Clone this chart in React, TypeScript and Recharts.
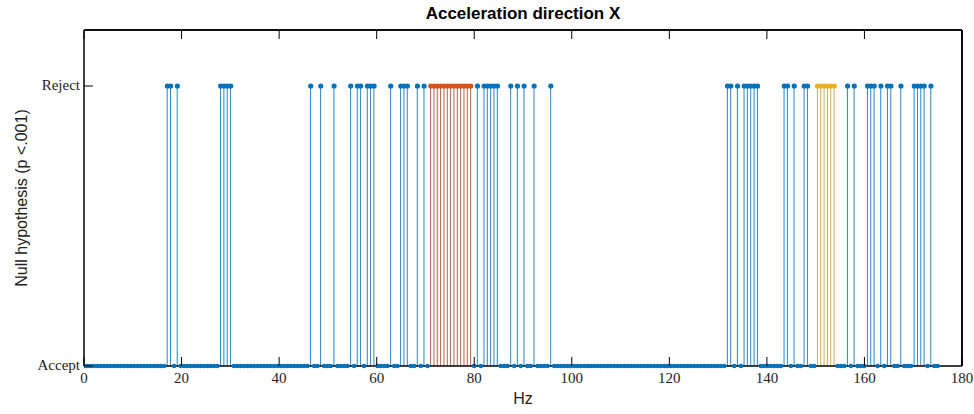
import React from "react";
import { ComposedChart, Bar, Scatter, XAxis, YAxis, Cell, ReferenceLine } from "recharts";

// frequency bins: fs = 350 Hz, 512-point FFT -> 257 one-sided bins
const BIN_HZ = 350 / 512;
const N_BINS = 257;

// bins where the null hypothesis is rejected (blue series)
const REJECT_BINS = [
  25, 26, 28, 41, 42, 43, 44, 68, 71, 75, 80, 82, 83, 85, 86, 87, 92, 95, 96,
  97, 100, 102, 118, 120, 121, 122, 123, 124, 128, 130, 132, 135, 140, 193, 194,
  196, 198, 199, 200, 201, 202, 210, 211, 213, 216, 217, 229, 231, 235, 236,
  237, 239, 241, 242, 245, 249, 250, 251, 252, 254,
];
// highlighted runs
const ORANGE_BINS = [104, 105, 106, 107, 108, 109, 110, 111, 112, 113, 114, 115, 116];
const YELLOW_BINS = [220, 221, 222, 223, 224, 225];

const X_TICKS = [0, 20, 40, 60, 80, 100, 120, 140, 160, 180];
const Y_TICKS = [0, 1];
const Y_TICK_LABELS = ["Accept", "Reject"];
const X_MAX = 180;
const Y_MAX = 1.2;

const BLUE = "#0072BD";
const ORANGE = "#D95319";
const YELLOW = "#EDB120";
const STEM = { blue: "#2a86c8", orange: "#b0654a", yellow: "#c9ad4f", none: BLUE };

const TICK_LEN = 9;
const AXIS_W = 1.5;
const serif = "'Liberation Serif', 'Times New Roman', serif";
const sans = "'Liberation Sans', Arial, Helvetica, sans-serif";

type Group = "blue" | "orange" | "yellow" | "none";

const data = Array.from({ length: N_BINS }, (_, i) => {
  let group: Group = "none";
  if (ORANGE_BINS.includes(i)) group = "orange";
  else if (YELLOW_BINS.includes(i)) group = "yellow";
  else if (REJECT_BINS.includes(i)) group = "blue";
  return { hz: i * BIN_HZ, h: group === "none" ? 0 : 1, group };
});

const acceptPts = data.filter((d) => d.group === "none");
const bluePts = data.filter((d) => d.group === "blue");
const orangePts = data.filter((d) => d.group === "orange");
const yellowPts = data.filter((d) => d.group === "yellow");

const dot = (color: string, r: number) => (p: any) =>
  <circle cx={p.cx} cy={p.cy} r={r} fill={color} />;

const BottomTick = (p: any) => (
  <g>
    <line x1={p.x} x2={p.x} y1={p.y} y2={p.y - TICK_LEN} stroke="#000" />
    <text x={p.x} y={p.y + 17} textAnchor="middle" fontFamily={serif} fontSize={15} fill="#222">
      {p.payload.value}
    </text>
  </g>
);

const TopTick = (p: any) => (
  <line x1={p.x} x2={p.x} y1={p.y} y2={p.y + TICK_LEN} stroke="#000" />
);

const LeftTick = (p: any) => (
  <g>
    <line x1={p.x} x2={p.x + TICK_LEN} y1={p.y} y2={p.y} stroke="#000" />
    <text x={p.x - 4} y={p.y + 4} textAnchor="end" fontFamily={serif} fontSize={15} fill="#222">
      {Y_TICK_LABELS[Y_TICKS.indexOf(p.payload.value)]}
    </text>
  </g>
);

const RightTick = (p: any) => (
  <line x1={p.x} x2={p.x - TICK_LEN} y1={p.y} y2={p.y} stroke="#000" />
);

export default function App() {
  return (
    <div style={{ position: "absolute", left: 0, top: 0, width: 974, height: 414, background: "#fff" }}>
      <ComposedChart
        width={974}
        height={414}
        data={data}
        margin={{ top: 29, right: 11, bottom: 0, left: 0 }}
      >
        <XAxis
          dataKey="hz"
          type="number"
          domain={[0, X_MAX]}
          ticks={X_TICKS}
          height={48}
          tickSize={0}
          tickMargin={0}
          tickLine={false}
          tick={<BottomTick />}
          axisLine={{ stroke: "#000", strokeWidth: AXIS_W }}
          allowDataOverflow
        />
        <XAxis
          xAxisId="top"
          orientation="top"
          dataKey="hz"
          type="number"
          domain={[0, X_MAX]}
          ticks={X_TICKS}
          height={1}
          tickSize={0}
          tickMargin={0}
          tickLine={false}
          tick={<TopTick />}
          axisLine={{ stroke: "#000", strokeWidth: AXIS_W }}
        />
        <YAxis
          type="number"
          domain={[0, Y_MAX]}
          ticks={Y_TICKS}
          width={84}
          tickSize={0}
          tickMargin={0}
          tickLine={false}
          tick={<LeftTick />}
          axisLine={{ stroke: "#000", strokeWidth: AXIS_W }}
        />
        <YAxis
          yAxisId="right"
          orientation="right"
          type="number"
          domain={[0, Y_MAX]}
          ticks={Y_TICKS}
          width={1}
          tickSize={0}
          tickMargin={0}
          tickLine={false}
          tick={<RightTick />}
          axisLine={{ stroke: "#000", strokeWidth: AXIS_W }}
        />
        <ReferenceLine y={Y_MAX} stroke="#000" strokeWidth={AXIS_W} ifOverflow="extendDomain" />
        <ReferenceLine x={X_MAX} stroke="#000" strokeWidth={AXIS_W} ifOverflow="extendDomain" />
        <Bar dataKey="h" barSize={1} isAnimationActive={false}>
          {data.map((d, i) => (
            <Cell key={`stem-${i}`} fill={STEM[d.group as Group]} />
          ))}
        </Bar>
        <Scatter data={acceptPts} dataKey="h" fill={BLUE} shape={dot(BLUE, 2.3)} isAnimationActive={false} />
        <Scatter data={bluePts} dataKey="h" fill={BLUE} shape={dot(BLUE, 2.6)} isAnimationActive={false} />
        <Scatter data={orangePts} dataKey="h" fill={ORANGE} shape={dot(ORANGE, 2.6)} isAnimationActive={false} />
        <Scatter data={yellowPts} dataKey="h" fill={YELLOW} shape={dot(YELLOW, 2.6)} isAnimationActive={false} />
      </ComposedChart>
      <svg
        width={974}
        height={414}
        style={{ position: "absolute", left: 0, top: 0, pointerEvents: "none" }}
      >
        <text x={523} y={19} textAnchor="middle" fontFamily={sans} fontWeight="bold" fontSize={17} fill="#000">
          Acceleration direction X
        </text>
        <text x={523} y={404} textAnchor="middle" fontFamily={sans} fontSize={16} fill="#222">
          Hz
        </text>
        <text
          x={0}
          y={0}
          transform="translate(27, 198) rotate(-90)"
          textAnchor="middle"
          fontFamily={sans}
          fontSize={16}
          fill="#222"
        >
          Null hypothesis (p &lt;.001)
        </text>
      </svg>
    </div>
  );
}
